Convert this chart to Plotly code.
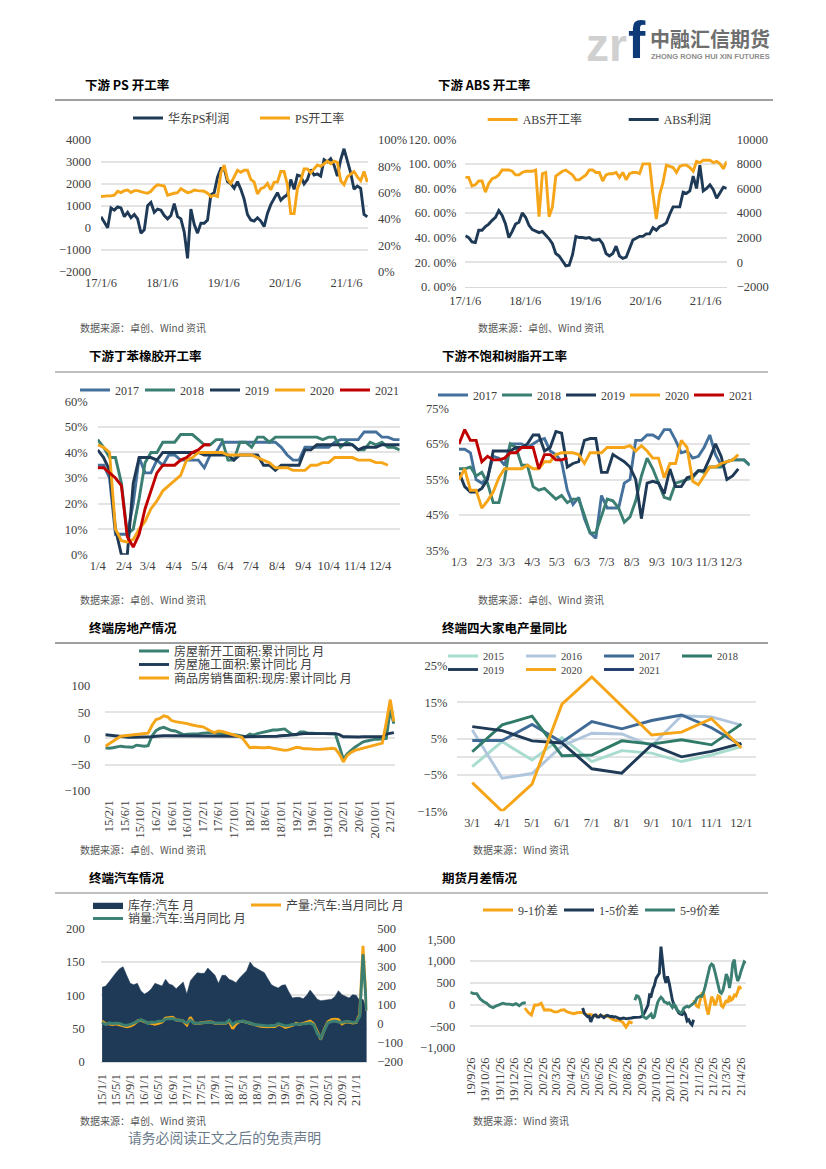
import pandas as pd
import plotly.graph_objects as go

NAVY = "#1F3A56"; ORANGE = "#F5A517"; GREEN = "#3A7F72"; BLUE = "#44709C"; RED = "#C00000"
FONT = "Liberation Serif, Noto Sans CJK SC"
CJK = "Noto Sans CJK SC"
W, H = 826, 1169

# ---------- chart 1
ps_profit = [500,250,0,900,800,950,900,500,700,450,600,400,-250,-100,1000,1150,700,850,800,550,400,550,1100,500,400,-200,-1400,850,150,-250,200,200,350,1500,1600,2300,2700,2700,2100,2000,1800,2100,1750,1300,600,350,300,450,300,50,650,1050,1300,1600,1250,1400,1500,2200,1750,2400,2350,2000,2200,2650,2400,2450,2350,3100,3000,3150,2850,2350,3100,3600,3050,2500,1750,1900,1800,600,500]
ps_rate = [57,57.5,57.5,57.5,58,61,60,61.5,62,60,61.5,61.5,60.5,60,59.5,61,64,66,65.5,65,58,59,59.5,60,63,61.5,60,60.5,62,61.5,61.5,61,59.5,57,58,57,75,81,70,67,72,77,75.5,77,77,70,68,59,63,64,67,62,68,68,76,76,66,44,44,63,69,78,78,75,78,81,80,82,84,82,84,83,69,66,72,74,76,72,69,76,68]
ps_ticks = ["2017-01-06","2018-01-06","2019-01-06","2020-01-06","2021-01-06"]
ps_labels = ["17/1/6","18/1/6","19/1/6","20/1/6","21/1/6"]

# ---------- chart 2
abs_rate = [89,89,82,83,86,86,77,84,88,89,91,95,95,95,94,91,91,93,94,94,94,95,57,92,93,57,65,90,92,94,95,93,91,87,87,89,91,95,95,93,93,86,91,92,92,93,89,93,87,92,93,93,92,100,100,100,75,55,75,85,99,98,97,93,98,99,99,97,94,102,101,103,103,103,101,102,100,96,102]
abs_profit = [2150,2000,1650,1600,2600,2600,2900,3100,3400,3650,4200,3800,3100,2000,2500,3100,3250,4000,3650,3000,2650,2500,2400,2500,2200,1900,1500,700,500,100,-300,-250,600,2100,2000,2000,1950,2000,1800,1800,1850,1500,700,500,700,1300,500,300,400,1100,1800,1950,2100,2100,2300,2300,2800,2600,2900,3000,3200,3900,4500,4500,4500,5700,5600,5800,7000,6000,7900,5800,6000,6300,5900,5200,5700,6100,6000]
abs_left_ticks = [0,20,40,60,80,100,120]
abs_left_labels = ["0. 00%","20. 00%","40. 00%","60. 00%","80. 00%","100. 00%","120. 00%"]

# ---------- chart 3
rub_2017 = [35,35,30,8,8,8,20,38,32,32,37,35,39,39,37,37,37,37,34,39,40,44,44,44,44,44,44,44,44,44,44,42,39,37,37,42,42,42,42,42,44,45,45,45,45,48,48,48,46,46,45,45]
rub_2018 = [45,42,38,38,28,8,10,22,36,40,40,44,44,44,47,47,47,45,43,43,45,45,37,37,44,44,42,46,46,44,46,46,46,46,46,46,46,46,45,46,46,42,44,43,41,41,44,43,44,42,42,41]
rub_2019 = [41,38,33,10,0,0,28,38,38,38,37,40,40,40,40,40,40,40,39,39,39,39,39,37,39,39,39,39,35,35,33,35,35,35,35,41,41,43,43,43,43,43,43,43,41,42,42,42,43,43,43,43]
rub_2020 = [43,42,40,10,5.5,5,6,10,13,18,21,25,27,29,31,37,38,40,40,40,40,40,39,39,39,39,39,38,37,36,34,34,34,33,33,33,35,35,36,36,38,38,38,38,37,37,37,36,36,35]
rub_2021 = [34,34,32,30,27,7,3,8,18,25,32,35,35,35,37,38,40,41,43,43]
rub_ticks = ["2021-%02d-04" % m for m in range(1, 13)]
rub_labels = ["%d/4" % m for m in range(1, 13)]

# ---------- chart 4
res_2017 = [63.5,63.5,62.5,55,54,55.5,61.5,61,59,65,65,65,64,65,66,66.5,63,62,60,52,48,50,44,40,38.5,50.5,47,47,47,54,55,66,66,67.5,67.5,66.5,69,69,66,62.5,63,61,61.5,64,67.5,62,59,60,60.5,60.5,60.5,59]
res_2018 = [58,58,58.5,56,57,54,48.5,48.5,55,65,64,59,59,53,52,52.5,51,49.5,50.5,48.5,49.5,49.5,45,40,40,45,49.5,49,47,43,44.5,49,56,61,58,54,50,49.5,54,54.5,55,55.5,57.5,57,58.5,58.5,58.5,60,60.5,60.5,60.5,59]
res_2019 = [57,53,51.5,51.5,52.5,55,63,63,63,63,64,64,65,67.5,67.5,63,64,68.5,68,58.5,59.5,60,66,66.5,66.5,57,57,62,61,60,58.5,55,44,54,54.5,54,51,58,53,53,55.5,56,57.5,57.5,61,65,61.5,55,56,58]
res_2020 = [55,58,52,52,47,49,51.5,55.5,58,58,58,58,59,58,58,60,60,62,62.5,62.5,62.5,62,59.5,62.5,62.5,62.5,64,64,64,64,64.5,63,64.5,63,61,61,55.5,59.5,59.5,66,64,54.5,53.5,56,58.5,58.5,59.5,60,60.5,62]
res_2021 = [65,69,66,66,60,61.5,60.5,60.5,61,62.5,62.5,64,64,64,58,62,62,60.5,60.5,61]
res_ticks = ["2021-%02d-03" % m for m in range(1, 13)]
res_labels = ["%d/3" % m for m in range(1, 13)]

# ---------- chart 5
new_start = [-18,-19,-18,-16,-15,-16,-16,-17,-13,-14,-15,-14,5,15,19,21,18,15,14,11,7,8,8,8,9,10,11,11,10,10,9,8,8,7,6,5,3,8,6,9,11,13,15,16,16,17,18,12,7,7,12,12,10,10,9,9,9,9,9,8,-15,-40,-30,-23,-17,-12,-7,-5,-3,-2,-2,-1,0,55,28]
under_con = [7,6,5,4,3,3,2,2,2,2,2,2,3,4,5,5,5,5,5,5,4,4,4,4,4,4,4,4,4,5,4,4,4,4,4,3,3,3,3,3,3,4,4,4,4,5,5,6,7,8,9,9,9,9,9,9,9,9,9,9,7,3,3,2.5,2.5,2.5,3,3,3,3,3,3,8,10,11]
sales_area = [-15,-10,-5,0,4,5,6,7,8,8,9,10,25,36,38,43,41,34,32,31,30,28,26,24,23,22,18,14,11,14,13,11,9,7,5,2,-8,-18,-17,-18,-18,-18,-17,-19,-20,-22,-23,-22,-20,-17,-18,-20,-20,-21,-21,-21,-21,-20,-19,-20,-30,-45,-33,-27,-23,-21,-18,-16,-14,-12,-10,-9,30,74,32]
prop_ticks = pd.date_range("2015-02-01", periods=19, freq="4MS").strftime("%Y-%m-%d").tolist()
prop_labels = ["15/2/1","15/6/1","15/10/1","16/2/1","16/6/1","16/10/1","17/2/1","17/6/1","17/10/1","18/2/1","18/6/1","18/10/1","19/2/1","19/6/1","19/10/1","20/2/1","20/6/1","20/10/1","21/2/1"]

# ---------- chart 6
app_months = ["3/1","4/1","5/1","6/1","7/1","8/1","9/1","10/1","11/1","12/1"]
app_2015 = [-2.7,4.2,-0.9,5.3,-1.3,1.7,1,-1.3,0.5,2.8]
app_2016 = [7.4,-5.9,-4.6,3,6.5,6.3,3,11.3,11,8.7]
app_2017 = [4.5,4.5,8.9,4,9.7,7.7,10,11.5,8,3.2]
app_2018 = [1.4,8.8,11.2,0.3,0.5,4.4,3.5,4.7,3.3,9]
app_2019 = [8.3,7.2,4.4,3.8,-3.3,-4.5,3.3,0,1.5,3.7]
app_2020 = [-7.1,-15,-7.5,14.5,22,14,6,6.8,10.5,2.5]
app_2021 = [None]*10

# ---------- chart 7
car_stock = [112,114,120,128,134,140,143,130,118,116,118,107,102,105,110,118,116,114,124,117,115,110,115,120,102,122,128,134,133,133,141,135,130,118,130,130,124,122,119,126,132,137,150,143,140,137,134,125,116,113,111,115,116,105,96,97,97,95,100,108,100,94,92,93,94,94,98,107,101,98,96,101,100,92,94,80]
car_prod = [15,0,0,-3,0,-5,-12,-15,-12,-2,15,20,12,5,3,-2,3,10,30,33,35,20,20,15,-5,35,5,2,5,10,10,10,3,3,5,3,15,-25,0,12,14,8,2,-6,-8,-12,-15,-15,-12,-14,-2,-8,-18,-14,-8,3,-2,3,10,15,0,-45,-80,-30,10,22,25,22,0,10,10,5,8,50,410,70]
car_sales = [8,-3,5,2,4,3,-5,-8,-3,5,17,22,15,2,10,8,14,15,25,28,28,20,20,15,5,20,5,3,5,8,8,8,4,5,5,4,20,-5,10,14,15,8,5,-3,-5,-8,-10,-10,-8,-8,2,-5,-10,-8,-3,-2,-2,0,2,5,-5,-50,-75,-30,5,12,15,10,8,12,12,8,10,40,365,70]
car_ticks = pd.date_range("2015-01-01", periods=19, freq="4MS").strftime("%Y-%m-%d").tolist()
car_labels = ["15/1/1","15/5/1","15/9/1","16/1/1","16/5/1","16/9/1","17/1/1","17/5/1","17/9/1","18/1/1","18/5/1","18/9/1","19/1/1","19/5/1","19/9/1","20/1/1","20/5/1","20/9/1","21/1/1"]

# ---------- chart 8
sp91_a = [-80,-180,-240,-10,-10,30,-130,-120,-130,-170,-170,-130,-120,-170,-190,-210,-190,-180,-190,-240,-230,-250,-270,-260,-270,-260,-290,-350,-370,-360,-410,-520,-400,-430]
sp91_b = [100,40,-40,-60,100,250,280,50,-100,-230,-60,180,120,-20,60,200,180,-30,-60,30,100,40,200,100,130,220,200,300,420,350]
sp15 = [-80,-200,-240,-280,-270,-400,-300,-250,-240,-290,-290,-240,-270,-300,-270,-250,-260,-280,-270,-290,-280,-300,-310,-330,-320,-310,-320,-330,-320,-320,-310,-300,-300,-300,-300,-290,-280,-250,-180,-100,-20,220,200,350,450,600,680,720,1330,1000,640,500,650,500,250,100,0,-80,-150,-200,-220,-230,-170,-230,-380,-350,-430,-470,-350]
sp59_a = [280,250,250,130,70,30,-40,-70,-30,0,30,10,10,-10,20,-30,30,40]
sp59_b = [100,200,190,120,-50,-280,-300,-320,-290,-260,-220,-320,-270,-100,50,120,170,130,60,50,20,40,-30,-70,0,-40,-130,-170,-190,-170,-80,-60,-40,-60,-30,-20,20,60,150,180,200,190,270,400,560,750,880,930,900,760,600,420,290,260,330,500,700,620,380,600,950,1030,700,540,620,760,880,980,950]
spread_ticks = [pd.Timestamp("2019-09-26") + pd.DateOffset(months=i) for i in range(20)]
spread_labels = ["19/9/26","19/10/26","19/11/26","19/12/26","20/1/26","20/2/26","20/3/26","20/4/26","20/5/26","20/6/26","20/7/26","20/8/26","20/9/26","20/10/26","20/11/26","20/12/26","21/1/26","21/2/26","21/3/26","21/4/26"]

# ---------- helpers
def px(x): return x / W
def py(y): return 1 - y / H

fig = go.Figure()
layout = {}
TICK = dict(family=FONT, size=12.5, color="#404040")
GRID = "#E4E4E4"

def xaxis(n, left, right, rng, vals, text, angle=0, line=True):
    layout[f"xaxis{n}"] = dict(domain=[px(left), px(right)], range=rng, anchor=f"y{n}", tickmode="array",
        tickvals=vals, ticktext=text, tickangle=angle, tickfont=TICK, showgrid=False, zeroline=False,
        showline=line, linecolor="#D9D9D9", linewidth=1, ticks="", ticklabelstandoff=2, automargin=False,
        **({"type": "date"} if isinstance(rng[0], str) else {}))

def yaxis(n, xn, top, bottom, rng, dtick, gap, side="left", overlay=None, grid=True, fmt=None, vals=None, text=None, zero=False):
    d = dict(domain=[py(bottom), py(top)], range=rng, anchor=f"x{xn}", side=side, tickfont=TICK,
             showgrid=grid, gridcolor=GRID, gridwidth=1.5, zeroline=zero, zerolinecolor=GRID, zerolinewidth=1.5,
             showline=False, ticks="", ticklabelstandoff=gap, automargin=False)
    if vals is not None:
        d.update(tickmode="array", tickvals=vals, ticktext=text)
    else:
        d.update(tickmode="linear", tick0=rng[0], dtick=dtick)
    if fmt: d["tickformat"] = fmt
    if overlay: d["overlaying"] = f"y{overlay}"
    layout[f"yaxis{n}"] = d

def line(x, y, name, color, xa, ya, leg, width=2.9):
    fig.add_trace(go.Scatter(x=x, y=y, name=name, mode="lines", line=dict(color=color, width=width),
                             xaxis=f"x{xa}", yaxis=f"y{ya}", legend=leg, connectgaps=False))

def legend(key, left, y, entry, orient="h", size=12):
    layout[key] = dict(x=px(left - 5), y=py(y), xanchor="left", yanchor="middle", orientation=orient,
                       entrywidth=entry, entrywidthmode="pixels", bgcolor="rgba(0,0,0,0)", borderwidth=0,
                       font=dict(family=FONT, size=size, color="#404040"), traceorder="normal", itemwidth=30)

def span(start, end, n):
    return pd.date_range(start, end, periods=n)

# chart 1
xaxis(1, 101, 368, ["2017-01-06", "2021-05-14"], ps_ticks, ps_labels, line=False)
yaxis(1, 1, 140, 271.5, [-2000, 4000], 1000, 9, fmt="d")
yaxis(2, 1, 140, 271.5, [0, 1], 0.2, 9, side="right", overlay=1, grid=False, fmt=".0%")
line(span("2017-01-06", "2021-05-10", len(ps_profit)), ps_profit, "华东PS利润", NAVY, 1, 1, "legend")
line(span("2017-01-06", "2021-05-10", len(ps_rate)), [v / 100 for v in ps_rate], "PS开工率", ORANGE, 1, 2, "legend")
legend("legend", 133, 118, 82)

# chart 2
xaxis(2, 465.3, 726.7, ["2017-01-06", "2021-05-14"], ps_ticks, ps_labels)
yaxis(3, 2, 139.3, 286.7, [0, 120], 20, 8, vals=abs_left_ticks, text=abs_left_labels)
yaxis(4, 2, 139.3, 286.7, [-2000, 10000], 2000, 9, side="right", overlay=3, grid=False, fmt="d")
layout["xaxis2"]["anchor"] = "y3"
line(span("2017-01-06", "2021-05-14", len(abs_rate)), abs_rate, "ABS开工率", ORANGE, 2, 3, "legend2")
line(span("2017-01-06", "2021-05-14", len(abs_profit)), abs_profit, "ABS利润", NAVY, 2, 4, "legend2")
legend("legend2", 487.7, 119.5, 96)

# chart 3
xaxis(3, 97.7, 399.7, ["2021-01-04", "2021-12-27"], rub_ticks, rub_labels, line=False)
yaxis(5, 3, 401.3, 554.7, [0, 60], 10, 9, vals=[0,10,20,30,40,50,60], text=["0%","10%","20%","30%","40%","50%","60%"])
layout["xaxis3"]["anchor"] = "y5"
for name, series, color in [("2017", rub_2017, BLUE), ("2018", rub_2018, GREEN), ("2019", rub_2019, NAVY), ("2020", rub_2020, ORANGE), ("2021", rub_2021, RED)]:
    line(pd.date_range("2021-01-04", periods=len(series), freq="7D"), series, name, color, 3, 5, "legend3")
legend("legend3", 80, 390, 20)

# chart 4
xaxis(4, 459, 749.7, ["2021-01-03", "2021-12-26"], res_ticks, res_labels, line=False)
yaxis(6, 4, 408.3, 550.7, [35, 75], 10, 9, vals=[35,45,55,65,75], text=["35%","45%","55%","65%","75%"])
layout["xaxis4"]["anchor"] = "y6"
for name, series, color in [("2017", res_2017, BLUE), ("2018", res_2018, GREEN), ("2019", res_2019, NAVY), ("2020", res_2020, ORANGE), ("2021", res_2021, RED)]:
    line(pd.date_range("2021-01-03", periods=len(series), freq="7D"), series, name, color, 4, 6, "legend4")
legend("legend4", 438, 395, 19)

# chart 5
xaxis(5, 105.3, 395, ["2015-01-01", "2021-03-10"], prop_ticks, prop_labels, angle=-90, line=False)
layout["xaxis5"]["ticklabelstandoff"] = 6
yaxis(7, 5, 686, 790.7, [-100, 100], 50, 14, zero=True)
layout["xaxis5"]["anchor"] = "y7"
mths = pd.date_range("2015-01-01", periods=75, freq="MS")
line(mths[:len(new_start)], new_start, "房屋新开工面积:累计同比 月", GREEN, 5, 7, "legend5")
line(mths[:len(under_con)], under_con, "房屋施工面积:累计同比 月", NAVY, 5, 7, "legend11")
line(mths[:len(sales_area)], sales_area, "商品房销售面积:现房:累计同比 月", ORANGE, 5, 7, "legend12")
legend("legend5", 139, 651, 200)
legend("legend11", 139, 664.5, 200)
legend("legend12", 139, 678, 200)

# chart 6
xaxis(6, 457.3, 756.3, [-0.5, 9.5], list(range(10)), app_months, line=False)
yaxis(8, 6, 666, 811.3, [-15, 25], 10, 9, vals=[-15,-5,5,15,25], text=["−15%","−5%","5%","15%","25%"], zero=True)
layout["xaxis6"]["anchor"] = "y8"
for name, series, color, leg in [("2015", app_2015, "#A8DCCF", "legend6"), ("2016", app_2016, "#B0C6DC", "legend6"), ("2017", app_2017, "#3F6A96", "legend6"),
                                 ("2018", app_2018, "#2F7A68", "legend6"), ("2019", app_2019, NAVY, "legend7"), ("2020", app_2020, ORANGE, "legend7"), ("2021", app_2021, "#1F3A6E", "legend7")]:
    line(list(range(10)), series, name, color, 6, 8, leg)
legend("legend6", 448, 656, 33, size=10.5)
legend("legend7", 448, 669.5, 33, size=10.5)

# chart 7
car_m = pd.date_range("2015-01-01", periods=len(car_stock), freq="MS")
xaxis(7, 100.7, 367.3, ["2014-12-20", "2021-04-07"], car_ticks, car_labels, angle=-90, line=True)
layout["xaxis7"]["ticklabelstandoff"] = 6
yaxis(9, 7, 928.7, 1062, [0, 200], 50, 15)
yaxis(10, 7, 928.7, 1062, [-200, 500], 100, 9, side="right", overlay=9, grid=False, vals=[-200,-100,0,100,200,300,400,500], text=["−200","−100","0","100","200","300","400","500"])
layout["xaxis7"]["anchor"] = "y9"
fig.add_trace(go.Scatter(x=car_m, y=car_stock, name="库存:汽车 月", mode="lines", fill="tozeroy", fillcolor=NAVY,
                         line=dict(color=NAVY, width=0.5), xaxis="x7", yaxis="y9", legend="legend8"))
line(car_m[:len(car_prod)], car_prod, "产量:汽车:当月同比 月", ORANGE, 7, 10, "legend8")
line(car_m[:len(car_sales)], car_sales, "销量:汽车:当月同比 月", GREEN, 7, 10, "legend9")
legend("legend8", 93, 905, 113)
legend("legend9", 93, 918.5, 113)

# chart 8
xaxis(8, 470.3, 746.3, ["2019-09-24", "2021-05-08"], spread_ticks, spread_labels, angle=-90, line=False)
layout["xaxis8"]["ticklabelstandoff"] = 6
yaxis(11, 8, 939.3, 1048, [-1000, 1500], 500, 14, vals=[-1000,-500,0,500,1000,1500], text=["−1,000","−500","0","500","1,000","1,500"])
layout["xaxis8"]["anchor"] = "y11"
line(pd.date_range("2020-01-19", periods=len(sp91_a), freq="7D"), sp91_a, "9-1价差", ORANGE, 8, 11, "legend10")
line(pd.date_range("2021-01-15", periods=len(sp91_b), freq="84h"), sp91_b, "9-1价差", ORANGE, 8, 11, "legend10")
fig.data[-1].showlegend = False
line(pd.date_range("2020-05-22", periods=len(sp15), freq="84h"), sp15, "1-5价差", NAVY, 8, 11, "legend10")
line(pd.date_range("2019-09-24", periods=len(sp59_a), freq="7D"), sp59_a, "5-9价差", GREEN, 8, 11, "legend10")
line(pd.date_range("2020-09-11", periods=len(sp59_b), freq="84h"), sp59_b, "5-9价差", GREEN, 8, 11, "legend10")
fig.data[-1].showlegend = False
legend("legend10", 483, 910, 36)

# ---------- page furniture
ann = []
def text(x, y, s, size=11, color="#404040", bold=False, anchor="left", family=CJK):
    ann.append(dict(x=px(x - 2.5), y=py(y), xref="paper", yref="paper", text=f"<b>{s}</b>" if bold else s, showarrow=False,
                    xanchor=anchor, yanchor="middle", font=dict(family=family, size=size, color=color)))

for x, y, s in [(85, 84, "下游 PS 开工率"), (438, 84, "下游 ABS 开工率"), (89, 355, "下游丁苯橡胶开工率"), (443, 355, "下游不饱和树脂开工率"),
                (89, 627, "终端房地产情况"), (443, 627, "终端四大家电产量同比"), (89, 877, "终端汽车情况"), (443, 877, "期货月差情况")]:
    text(x, y, s, size=12.5, color="#000000", bold=True)
for x, y, s in [(80, 327.5, "数据来源：卓创、Wind 资讯"), (478, 327.5, "数据来源：卓创、Wind 资讯"), (80, 599.5, "数据来源：卓创、Wind 资讯"), (478, 599.5, "数据来源：卓创、Wind 资讯"),
                (80, 849.5, "数据来源：卓创、Wind 资讯"), (473, 849.5, "数据来源：Wind 资讯"), (80, 1120.5, "数据来源：卓创、Wind 资讯"), (473, 1120.5, "数据来源：Wind 资讯")]:
    text(x, y, s, size=10, color="#555555")
text(128, 1137, "请务必阅读正文之后的免责声明", size=13.8, color="#6B7B8C")
# logo
text(586, 45, "zr", size=46, color="#D0D0D0", bold=True, family="Liberation Sans")
text(628, 40, "f", size=52, color="#0F3A78", bold=True, family="Liberation Sans")
text(650, 38, "中融汇信期货", size=20, color="#6E6E6E", bold=True)
text(651, 56, "ZHONG RONG HUI XIN FUTURES", size=7.5, color="#8C8C8C", bold=True, family="Liberation Sans")

shapes = []
for y, x0, x1, c, w in [(100, 55, 773, "#404040", 1), (372, 55, 768, "#808080", 1), (643, 55, 768, "#404040", 1), (893, 55, 768, "#808080", 1)]:
    shapes.append(dict(type="line", xref="paper", yref="paper", x0=px(x0), x1=px(x1), y0=py(y), y1=py(y), line=dict(color=c, width=w)))

fig.update_layout(width=W, height=H, margin=dict(l=0, r=0, t=0, b=0), paper_bgcolor="white", plot_bgcolor="white",
                  font=dict(family=FONT, size=11, color="#404040"), annotations=ann, shapes=shapes, hovermode=False, **layout)
fig.write_html("out.html", config={"displayModeBar": False},
               post_script="document.body.style.margin='0';document.body.style.overflow='hidden';")
